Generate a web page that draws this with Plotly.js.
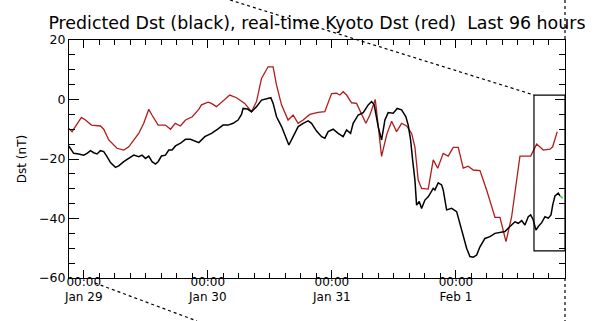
<!DOCTYPE html>
<html>
<head>
<meta charset="utf-8">
<script src="https://cdn.plot.ly/plotly-3.0.1.min.js"></script>
<style>
html,body{margin:0;padding:0;background:#fff;}
#chart{width:598px;height:321px;}
</style>
</head>
<body>
<div id="chart"></div>
<script>
// Hours relative to Jan 29 00:00
const hoursKyoto = [-2.9,-2.26,-0.45,0.33,1.49,3.23,3.87,4.84,6.44,7.74,8.71,10.64,11.61,12.58,13.2,14.4,15.8,16.8,17.7,18.7,19.7,21.0,22.25,22.78,24.05,24.7,25.68,26.95,28.25,29.55,31.15,32.45,33.42,34.39,35.66,36.63,37.29,38.26,39.53,40.5,41.47,42.44,43.73,45.34,46.64,47.94,48.91,49.55,50.19,50.85,51.81,52.78,53.42,54.58,55.35,56.4,57.62,58.59,59.56,60.52,61.49,62.46,63.43,64.07,64.7,65.36,66.64,67.61,68.48,69.54,70.51,71.48,72.45,73.41,74.38,75.35,76.65,77.94,79.22,79.55,80.52,81.68,82.78,84.39,86.46,87.62,88.9,90.19,90.71,91.6];
const dstKyoto = [-9.7,-10.8,-6.0,-6.9,-8.6,-8.9,-10.0,-13.6,-16.4,-17.0,-15.9,-11.4,-8.0,-3.3,-5.2,-8.6,-8.6,-10.0,-8.0,-8.9,-6.9,-5.8,-3.3,-1.8,-0.9,-1.3,-2.4,-0.5,1.5,0.6,-1.3,-4.1,-0.7,7.1,11.0,11.0,4.9,-1.8,-6.9,-5.2,-8.0,-6.9,-5.0,-4.3,-4.1,2.0,2.1,1.5,2.6,1.5,-1.1,-1.3,-3.5,-8.0,-5.2,0.0,-19.1,-11.9,-7.3,-10.8,-8.0,-8.9,-11.4,-16.0,-27.1,-29.9,-30.1,-20.3,-23.1,-18.1,-19.0,-16.1,-16.1,-23.1,-22.4,-23.7,-23.9,-30.4,-37.7,-39.6,-39.6,-47.8,-39.4,-19.0,-19.0,-15.0,-17.0,-16.7,-15.9,-10.8];

const hoursPred = [-2.9,-2.38,-1.94,-0.97,0,0.64,1.3,1.94,2.57,3.23,3.87,4.51,5.17,6.14,6.77,7.74,8.71,9.68,10.65,11.28,11.94,12.58,13.22,13.88,14.38,15.04,15.81,16.45,17.09,17.75,18.72,19.68,20.65,21.62,22.26,23.42,24.72,25.99,26.96,27.93,28.9,29.86,30.52,30.83,31.68,32.46,33.43,34.39,35.36,36.19,36.64,37.3,38.27,38.9,39.68,40.51,41.48,42.45,43.41,44.07,45.04,46.01,46.65,47.28,48.25,49.22,50.19,50.85,51.62,52.12,53.09,54.06,55.03,55.68,56.19,56.96,57.62,58.26,58.9,59.86,60.64,61.49,62.32,62.77,63.23,63.62,64.07,64.39,64.9,65.36,66.0,66.64,67.61,67.94,68.58,69.23,69.54,70.2,71.17,72.14,72.77,73.41,74.07,74.71,75.35,76.01,76.65,77.61,78.58,79.55,80.52,81.48,82.45,83.42,84.06,84.72,85.35,85.99,86.46,86.96,87.48,87.93,88.59,89.23,89.87,90.39,90.72,91.16,91.8,92.13];
const dstPred = [-15.6,-17.0,-18.1,-18.3,-18.7,-18.1,-17.2,-17.9,-18.3,-17.2,-17.5,-19.2,-21.2,-22.8,-22.3,-20.9,-19.8,-18.7,-19.2,-18.7,-19.8,-19.0,-20.9,-21.7,-20.9,-19.0,-18.7,-17.0,-17.0,-15.6,-14.7,-13.4,-13.4,-14.2,-14.5,-12.5,-11.4,-9.9,-8.6,-8.6,-8.0,-6.9,-5.0,-3.0,-3.2,-4.1,-2.4,-0.2,0.2,0.6,-1.3,-5.8,-9.1,-11.9,-15.3,-12.5,-9.1,-8.0,-7.2,-8.0,-10.6,-12.5,-13.0,-10.8,-10.0,-11.4,-12.5,-10.2,-11.4,-8.0,-5.2,-4.4,-1.8,-0.7,-1.8,-9.1,-13.6,-6.9,-4.4,-4.6,-3.0,-3.5,-5.8,-8.6,-13.6,-20.3,-27.1,-35.5,-34.3,-36.6,-33.8,-32.7,-29.9,-30.4,-28.0,-28.7,-30.4,-37.1,-36.6,-37.7,-41.6,-46.1,-50.0,-52.8,-53.0,-52.3,-49.5,-46.7,-46.1,-45.0,-44.8,-44.4,-42.7,-41.1,-41.6,-40.7,-42.2,-39.4,-38.8,-40.5,-43.9,-42.7,-41.4,-39.4,-39.9,-38.8,-35.5,-32.4,-31.5,-32.4];

const hoursLatest = [92.13,92.65];
const dstLatest = [-32.4,-33.2];

const tickHours = [0,24,48,72];
const tickTimes = ["00:00","00:00","00:00","00:00"];
const tickDates = ["Jan 29","Jan 30","Jan 31","Feb 1"];
const yTickVals = [20,0,-20,-40,-60];

const FONT = "DejaVu Sans, sans-serif";
const XRANGE = [-2.85, 93.1];

const traces = [
  {x: hoursKyoto, y: dstKyoto, type:'scatter', mode:'lines', line:{color:'#b01c1c', width:1.3}, hoverinfo:'skip'},
  {x: hoursPred, y: dstPred, type:'scatter', mode:'lines', line:{color:'#000000', width:1.5}, hoverinfo:'skip'},
  {x: hoursLatest, y: dstLatest, type:'scatter', mode:'lines', line:{color:'#33cc33', width:1.5}, hoverinfo:'skip'},
  // transparent carrier so the date-label axis is drawn
  {x: hoursLatest, y: dstLatest, xaxis:'x2', type:'scatter', mode:'lines', line:{color:'rgba(0,0,0,0)', width:0}, hoverinfo:'skip'}
];

const dot = {color:'#000', width:1.2, dash:'dot'};
const layout = {
  width:598, height:321,
  margin:{l:69, r:33, t:40, b:43},
  paper_bgcolor:'#fff', plot_bgcolor:'#fff',
  showlegend:false,
  font:{family:FONT, color:'#000', size:12},
  title:{text:'Predicted Dst (black), real-time Kyoto Dst (red)  Last 96 hours', font:{family:FONT, size:17.4, color:'#000'}, x:0.53, xanchor:'center', y:0.928, yanchor:'middle'},
  xaxis:{
    range:XRANGE, showgrid:false, zeroline:false,
    showline:true, linecolor:'#000', linewidth:1, mirror:'ticks',
    ticks:'inside', ticklen:8, tickcolor:'#000', tickwidth:1,
    tickvals:tickHours, ticktext:tickTimes, ticklabelstandoff:-7,
    tickfont:{family:FONT, size:12, color:'#000'},
    minor:{dtick:3, tick0:0, ticks:'inside', ticklen:5, tickcolor:'#000', tickwidth:1, showgrid:false}
  },
  xaxis2:{
    range:XRANGE, overlaying:'x', anchor:'y', side:'bottom', showgrid:false, zeroline:false,
    showline:false, ticks:'', tickvals:tickHours, ticktext:tickDates, ticklabelstandoff:10,
    tickfont:{family:FONT, size:12, color:'#000'}
  },
  yaxis:{
    range:[-60, 20], showgrid:false, zeroline:false,
    showline:true, linecolor:'#000', linewidth:1, mirror:'ticks',
    ticks:'inside', ticklen:10, tickcolor:'#000', tickwidth:1,
    tickvals:yTickVals,
    tickfont:{family:FONT, size:12.5, color:'#000'},
    title:{text:'Dst (nT)', font:{family:FONT, size:12, color:'#000'}, standoff:9},
    minor:{dtick:5, tick0:0, ticks:'inside', ticklen:6, tickcolor:'#000', tickwidth:1, showgrid:false}
  },
  shapes:[
    {type:'rect', xref:'x', yref:'y', x0:87.1, x1:93.1, y0:1.5, y1:-50.9, line:{color:'#000', width:1.2}},
    {type:'line', xref:'paper', yref:'paper', x0:(230-69)/496, y0:(278-0)/238, x1:(534-69)/496, y1:(278-95)/238, line:dot},
    {type:'line', xref:'paper', yref:'paper', x0:(95-69)/496, y0:(278-283)/238, x1:(197-69)/496, y1:(278-321)/238, line:dot},
    {type:'line', xref:'paper', yref:'paper', x0:1, y0:(278-0)/238, x1:1, y1:1, line:dot},
    {type:'line', xref:'paper', yref:'paper', x0:1, y0:0, x1:1, y1:(278-321)/238, line:dot}
  ]
};

Plotly.newPlot('chart', traces, layout, {staticPlot:true, displayModeBar:false});
</script>
</body>
</html>
